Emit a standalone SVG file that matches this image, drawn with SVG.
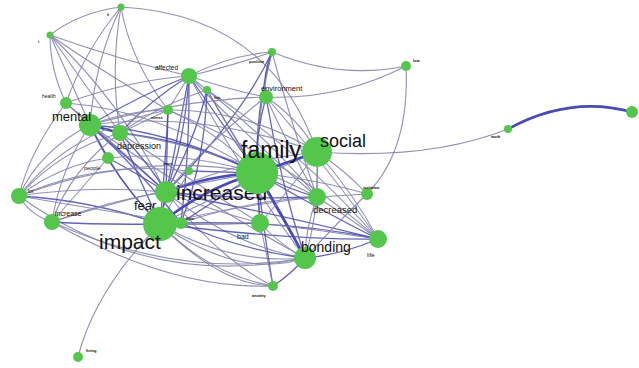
<svg xmlns="http://www.w3.org/2000/svg" width="639" height="368" viewBox="0 0 639 368">
<style>
.e{fill:none;stroke:#8484ae;stroke-width:1.1;opacity:.9}
.b{fill:none;stroke:#4848b2;stroke-width:1.3;opacity:.85}
.t{fill:none;stroke:#4a4ab6;stroke-width:2.6}
.n{fill:#55c64c}
text{font-family:"Liberation Sans",Arial,sans-serif;fill:#111}
.s{font-size:4px;font-weight:bold}
</style>
<rect width="639" height="368" fill="#fff"/>
<g id="edges">
<path class="e" d="M121 7Q80 12 50 35"/>
<path class="e" d="M121 7Q95 60 90 125"/>
<path class="e" d="M121 7Q110 70 120 133"/>
<path class="e" d="M121 7Q270 15 317 152"/>
<path class="e" d="M121 7Q85 50 66 103"/>
<path class="e" d="M121 7Q130 60 168 110"/>
<path class="e" d="M50 35Q120 60 189 76"/>
<path class="e" d="M50 35Q50 70 66 103"/>
<path class="e" d="M50 35Q70 80 90 125"/>
<path class="e" d="M50 35Q85 85 120 133"/>
<path class="e" d="M50 35Q100 70 168 110"/>
<path class="e" d="M50 35Q120 100 166 192"/>
<path class="e" d="M189 76Q230 55 272 52"/>
<path class="e" d="M189 76Q235 65 272 52"/>
<path class="e" d="M189 76Q230 90 266 97"/>
<path class="b" d="M189 76Q140 95 90 125"/>
<path class="b" d="M189 76Q150 100 120 133"/>
<path class="b" d="M189 76Q220 120 257 173"/>
<path class="b" d="M189 76Q185 140 166 192"/>
<path class="b" d="M189 76Q175 150 160 224"/>
<path class="e" d="M189 76Q130 80 66 103"/>
<path class="e" d="M189 76L207 90"/>
<path class="e" d="M189 76Q250 140 317 197"/>
<path class="e" d="M189 76L168 110"/>
<path class="e" d="M189 76Q240 170 305 258"/>
<path class="b" d="M189 76Q190 150 181 223"/>
<path class="e" d="M272 52Q340 80 406 66"/>
<path class="b" d="M272 52Q262 75 266 97"/>
<path class="b" d="M272 52Q255 110 257 173"/>
<path class="b" d="M272 52Q240 120 166 192"/>
<path class="e" d="M272 52Q250 140 260 223"/>
<path class="e" d="M272 52Q290 120 317 197"/>
<path class="e" d="M406 66Q340 100 266 97"/>
<path class="e" d="M406 66Q410 150 367 194"/>
<path class="b" d="M266 97Q255 135 257 173"/>
<path class="b" d="M266 97Q280 180 305 258"/>
<path class="e" d="M266 97Q290 150 317 197"/>
<path class="e" d="M266 97Q300 120 317 152"/>
<path class="e" d="M266 97Q210 140 166 192"/>
<path class="e" d="M266 97Q180 100 90 125"/>
<path class="e" d="M266 97Q330 170 378 239"/>
<path class="b" d="M207 90Q230 130 257 173"/>
<path class="b" d="M207 90Q195 140 166 192"/>
<path class="e" d="M207 90Q260 180 305 258"/>
<path class="b" d="M207 90Q205 160 181 223"/>
<path class="e" d="M207 90Q300 150 378 239"/>
<path class="e" d="M207 90Q270 140 317 197"/>
<path class="e" d="M207 90Q160 105 120 133"/>
<path class="e" d="M66 103L90 125"/>
<path class="e" d="M66 103Q160 110 257 173"/>
<path class="e" d="M66 103Q110 140 166 192"/>
<path class="e" d="M66 103Q30 150 19 196"/>
<path class="t" d="M90 125L120 133"/>
<path class="b" d="M90 125L108 158"/>
<path class="b" d="M90 125Q130 160 166 192"/>
<path class="b" d="M90 125Q115 180 160 224"/>
<path class="b" d="M90 125Q170 130 257 173"/>
<path class="e" d="M90 125Q200 110 317 152"/>
<path class="e" d="M90 125Q40 150 19 196"/>
<path class="e" d="M90 125Q60 170 52 222"/>
<path class="e" d="M90 125Q130 110 168 110"/>
<path class="b" d="M90 125Q140 170 181 223"/>
<path class="e" d="M90 125Q200 200 305 258"/>
<path class="b" d="M120 133Q190 140 257 173"/>
<path class="b" d="M120 133Q150 165 166 192"/>
<path class="b" d="M120 133Q140 180 160 224"/>
<path class="e" d="M120 133Q60 150 19 196"/>
<path class="e" d="M120 133L168 110"/>
<path class="e" d="M120 133Q190 180 260 223"/>
<path class="e" d="M120 133Q230 150 317 197"/>
<path class="b" d="M108 158Q130 195 160 224"/>
<path class="b" d="M108 158Q140 175 166 192"/>
<path class="e" d="M108 158Q60 165 19 196"/>
<path class="e" d="M108 158Q80 190 52 222"/>
<path class="e" d="M108 158Q180 150 257 173"/>
<path class="e" d="M168 110Q215 130 257 173"/>
<path class="b" d="M168 110L166 192"/>
<path class="b" d="M168 110Q165 170 160 224"/>
<path class="e" d="M168 110Q250 110 317 152"/>
<path class="e" d="M168 110Q290 160 378 239"/>
<path class="b" d="M189 171L257 173"/>
<path class="e" d="M189 171L160 224"/>
<path class="e" d="M189 171Q100 160 19 196"/>
<path class="e" d="M19 196Q30 215 52 222"/>
<path class="b" d="M19 196Q90 200 160 224"/>
<path class="e" d="M19 196Q90 185 166 192"/>
<path class="e" d="M19 196Q140 150 257 173"/>
<path class="e" d="M19 196Q150 290 305 258"/>
<path class="e" d="M19 196Q100 210 181 223"/>
<path class="e" d="M19 196Q70 130 168 110"/>
<path class="b" d="M52 222Q100 225 160 224"/>
<path class="e" d="M52 222Q110 200 166 192"/>
<path class="e" d="M52 222Q150 190 257 173"/>
<path class="e" d="M52 222Q180 280 305 258"/>
<path class="e" d="M52 222Q170 290 273 286"/>
<path class="e" d="M52 222Q70 170 120 133"/>
<path class="t" d="M166 192Q210 175 257 173"/>
<path class="b" d="M166 192L160 224"/>
<path class="e" d="M166 192Q240 160 317 152"/>
<path class="b" d="M166 192Q240 200 317 197"/>
<path class="e" d="M166 192Q230 245 305 258"/>
<path class="b" d="M166 192Q280 215 378 239"/>
<path class="e" d="M166 192Q210 210 260 223"/>
<path class="e" d="M166 192Q220 260 273 286"/>
<path class="t" d="M160 224Q200 190 257 173"/>
<path class="b" d="M160 224L181 223"/>
<path class="e" d="M160 224Q230 265 305 258"/>
<path class="e" d="M160 224Q240 280 305 258"/>
<path class="e" d="M160 224Q210 275 273 286"/>
<path class="e" d="M160 224Q220 285 273 286"/>
<path class="e" d="M160 224Q95 290 78 357"/>
<path class="e" d="M160 224Q210 225 260 223"/>
<path class="e" d="M160 224Q250 180 317 152"/>
<path class="b" d="M160 224Q290 240 378 239"/>
<path class="e" d="M160 224Q240 205 317 197"/>
<path class="b" d="M181 223L257 173"/>
<path class="b" d="M181 223Q240 250 305 258"/>
<path class="b" d="M181 223Q290 220 378 239"/>
<path class="e" d="M181 223Q250 200 317 197"/>
<path class="e" d="M181 223L260 223"/>
<path class="t" d="M257 173L317 152"/>
<path class="b" d="M257 173Q290 190 317 197"/>
<path class="t" d="M257 173Q285 220 305 258"/>
<path class="b" d="M257 173Q320 210 378 239"/>
<path class="e" d="M257 173Q320 180 367 194"/>
<path class="b" d="M257 173L260 223"/>
<path class="b" d="M257 173Q265 240 273 286"/>
<path class="e" d="M317 152L317 197"/>
<path class="e" d="M317 152Q345 170 367 194"/>
<path class="e" d="M317 152Q355 195 378 239"/>
<path class="e" d="M317 152Q320 210 305 258"/>
<path class="e" d="M317 152Q430 160 508 129"/>
<path class="e" d="M317 152Q290 190 260 223"/>
<path class="e" d="M317 197L367 194"/>
<path class="e" d="M317 197Q345 215 378 239"/>
<path class="e" d="M317 197Q305 230 305 258"/>
<path class="b" d="M305 258Q340 255 378 239"/>
<path class="e" d="M305 258Q340 220 367 194"/>
<path class="b" d="M305 258Q290 275 273 286"/>
<path class="e" d="M260 223Q280 245 305 258"/>
<path class="e" d="M260 223Q320 230 378 239"/>
<path class="e" d="M260 223L273 286"/>
<path class="t" d="M508 129Q570 95 632 112"/>
</g>
<g id="n-top"><circle class="n" cx="121" cy="7" r="3.5"/><text class="s" x="107" y="16">ii</text></g>
<g id="n-b"><circle class="n" cx="50" cy="35" r="3.5"/><text class="s" x="38" y="43">i</text></g>
<g id="n-affected"><circle class="n" cx="189" cy="76" r="8"/><text x="155" y="70" font-size="6.5">affected</text></g>
<g id="n-207"><circle class="n" cx="207" cy="90" r="4"/><text class="s" x="214" y="99">fun</text></g>
<g id="n-health"><circle class="n" cx="66" cy="103" r="6"/><text x="42" y="98" font-size="5">health</text></g>
<g id="n-mental"><circle class="n" cx="90" cy="125" r="11"/><text x="52" y="121" font-size="13">mental</text></g>
<g id="n-168"><circle class="n" cx="168" cy="110" r="5"/><text class="s" x="151" y="119">stress</text></g>
<g id="n-120"><circle class="n" cx="120" cy="133" r="8"/></g>
<g id="n-depression"><circle class="n" cx="108" cy="158" r="6"/><text x="117" y="149" font-size="9">depression</text></g>
<g id="n-people"><text x="84" y="170" font-size="5.5">people</text></g>
<g id="n-189"><circle class="n" cx="189" cy="171" r="4"/><text class="s" x="163" y="165">more</text></g>
<g id="n-lot"><circle class="n" cx="19" cy="196" r="8"/><text x="28" y="193" font-size="5">lot</text></g>
<g id="n-increase"><circle class="n" cx="52" cy="222" r="8"/><text x="55" y="216" font-size="7">increase</text></g>
<g id="n-increased"><circle class="n" cx="166" cy="192" r="11"/><text x="134" y="210" font-size="13">fear</text><text x="176" y="200" font-size="21">increased</text></g>
<g id="n-impact"><circle class="n" cx="160" cy="224" r="17"/><text x="99" y="249" font-size="21">impact</text></g>
<g id="n-time"><circle class="n" cx="181" cy="223" r="6"/><text class="s" x="186" y="220">time</text></g>
<g id="n-family"><circle class="n" cx="257" cy="173" r="21"/><text x="241" y="158" font-size="23">family</text></g>
<g id="n-social"><circle class="n" cx="317" cy="152" r="15"/><text x="320" y="147" font-size="18">social</text></g>
<g id="n-decreased"><circle class="n" cx="317" cy="197" r="9"/><text x="313" y="213" font-size="9.5">decreased</text></g>
<g id="n-isolation"><circle class="n" cx="367" cy="194" r="6"/><text class="s" x="363" y="189">isolation</text></g>
<g id="n-bad"><circle class="n" cx="260" cy="223" r="9"/><text x="237" y="239" font-size="7">bad</text></g>
<g id="n-bonding"><circle class="n" cx="305" cy="258" r="11"/><text x="301" y="252" font-size="14">bonding</text></g>
<g id="n-life"><circle class="n" cx="378" cy="239" r="9"/><text x="367" y="257" font-size="6">life</text></g>
<g id="n-273"><circle class="n" cx="273" cy="286" r="5"/><text class="s" x="252" y="297">anxiety</text></g>
<g id="n-78"><circle class="n" cx="78" cy="357" r="5"/><text class="s" x="86" y="352">living</text></g>
<g id="n-272"><circle class="n" cx="272" cy="52" r="4"/><text class="s" x="249" y="63">positive</text></g>
<g id="n-406"><circle class="n" cx="406" cy="66" r="5"/><text class="s" x="413" y="62">low</text></g>
<g id="n-environment"><circle class="n" cx="266" cy="97" r="7"/><text x="261" y="91" font-size="7.5">environment</text></g>
<g id="n-508"><circle class="n" cx="508" cy="129" r="4"/><text class="s" x="491" y="138">work</text></g>
<g id="n-632"><circle class="n" cx="632" cy="112" r="6"/></g>
</svg>
